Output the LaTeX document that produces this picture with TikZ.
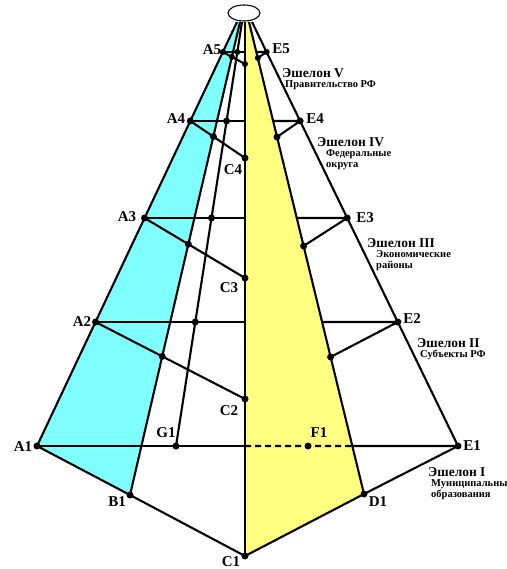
\documentclass[tikz,border=0pt]{standalone}
\usepackage{fontspec}
\setmainfont{Liberation Serif}
\usetikzlibrary{positioning}
\definecolor{lcyan}{RGB}{128,255,255}
\definecolor{lyellow}{RGB}{255,255,128}

\begin{document}
\begin{tikzpicture}[x=1pt,y=-1pt,
  ln/.style={line width=2.1pt},
  lbl/.style={font=\fontsize{15}{15}\selectfont\bfseries,inner sep=0pt},
  ech/.style={font=\fontsize{10.5}{10.5}\selectfont\bfseries,align=left,anchor=north west,inner sep=0pt}]
\useasboundingbox (0,0) rectangle (506,569);

\coordinate (OA) at (237,22);
\coordinate (OB) at (240,22);
\coordinate (OG) at (242,22);
\coordinate (OC) at (245,22);
\coordinate (OD) at (249,22);
\coordinate (OE) at (252,22);

\coordinate (A1) at (37,446);
\coordinate (A2) at (95.5,322);
\coordinate (A3) at (144.5,218);
\coordinate (A4) at (190.3,121);
\coordinate (A5) at (222.8,52);
\coordinate (E1) at (458,446);
\coordinate (E2) at (397.8,322);
\coordinate (E3) at (347.2,218);
\coordinate (E4) at (300.1,121);
\coordinate (E5) at (266.6,52);
\coordinate (B1) at (130,495);
\coordinate (C1) at (245,556);
\coordinate (D1) at (364,494);
\coordinate (F1) at (308,446);
\coordinate (G1) at (176,446);
\coordinate (C2) at (245,399);
\coordinate (C3) at (245,278);
\coordinate (C4) at (245,158);
\coordinate (C5) at (245,64);
\coordinate (P2) at (330.6,357);
\coordinate (P3) at (303.6,246);
\coordinate (P4) at (277,137);
\coordinate (P5) at (257.8,58);

\fill[lcyan] (A1) -- (B1) -- (OB) -- (OA) -- cycle;
\fill[lyellow] (C1) -- (D1) -- (OD) -- (OC) -- cycle;

\draw[ln] (A1) -- (OA);
\draw[ln] (B1) -- (OB);
\draw[ln] (G1) -- (OG);
\draw[ln] (C1) -- (OC);
\draw[ln] (D1) -- (OD);
\draw[ln] (E1) -- (OE);
\draw[ln,line join=round] (A1) -- (B1) -- (C1) -- (D1) -- (E1);

% echelon I
\coordinate (H1) at (A1 -| C1);
\coordinate (K1) at (intersection of D1--OD and A1--E1);
\draw[ln] (A1) -- (H1);
\draw[ln,dash pattern=on 6pt off 4pt] (H1) -- (K1);
\draw[ln] (K1) -- (E1);

% echelons II-V
\foreach \k/\r in {2/3.5,3/3.5,4/3.5,5/3}{
  \coordinate (H\k) at (A\k -| C1);
  \coordinate (K\k) at (intersection of D1--OD and A\k--E\k);
  \coordinate (Q\k) at (intersection of B1--OB and A\k--C\k);
  \coordinate (R\k) at (intersection of G1--OG and A\k--E\k);
  \draw[ln] (A\k) -- (H\k);
  \draw[ln] (A\k) -- (C\k);
  \draw[ln] (K\k) -- (E\k) -- (P\k);
  \foreach \p in {A,E,C,P,Q,R}
    \fill (\p\k) circle (\r);
}

\draw[line width=1.1pt,fill=white] (244,13) ellipse [x radius=16,y radius=8];

\foreach \p in {A1,B1,C1,D1,E1,F1,G1}
  \fill (\p) circle (3.5);

\node[lbl] (tA1) at (23,447) {A1};
\node[lbl] (tB1) at (117,502) {B1};
\node[lbl] (tC1) at (231,562) {C1};
\node[lbl] (tD1) at (378,502) {D1};
\node[lbl] (tE1) at (472,446) {E1};
\node[lbl] (tF1) at (319,433) {F1};
\node[lbl] (tG1) at (166,433) {G1};
\node[lbl] (tA2) at (82,322) {A2};
\node[lbl] (tA3) at (127,217) {A3};
\node[lbl] (tA4) at (176,119) {A4};
\node[lbl] (tA5) at (212,50) {A5};
\node[lbl] (tE2) at (412,319) {E2};
\node[lbl] (tE3) at (365,218) {E3};
\node[lbl] (tE4) at (315,119) {E4};
\node[lbl] (tE5) at (281,49) {E5};
\node[lbl] (tC2) at (229,411) {C2};
\node[lbl] (tC3) at (229,288) {C3};
\node[lbl] (tC4) at (233,170) {C4};

\node[ech] (ech5) at (282,68) {{\fontsize{13.5}{13.5}\selectfont Эшелон V}\\\hspace*{3pt}Правительство РФ};
\node[ech] (ech4) at (317,137) {{\fontsize{13.5}{13.5}\selectfont Эшелон IV}\\\hspace*{9pt}Федеральные\\\hspace*{9pt}округа};
\node[ech] (ech3) at (367,238) {{\fontsize{13.5}{13.5}\selectfont Эшелон III}\\\hspace*{9pt}Экономические\\\hspace*{9pt}районы};
\node[ech] (ech2) at (417,338) {{\fontsize{13.5}{13.5}\selectfont Эшелон II}\\\hspace*{3pt}Субъекты РФ};
\node[ech] (ech1) at (428,467) {{\fontsize{13.5}{13.5}\selectfont Эшелон I}\\\hspace*{3pt}Муниципальны\\\hspace*{3pt}образования};
\end{tikzpicture}
\end{document}
